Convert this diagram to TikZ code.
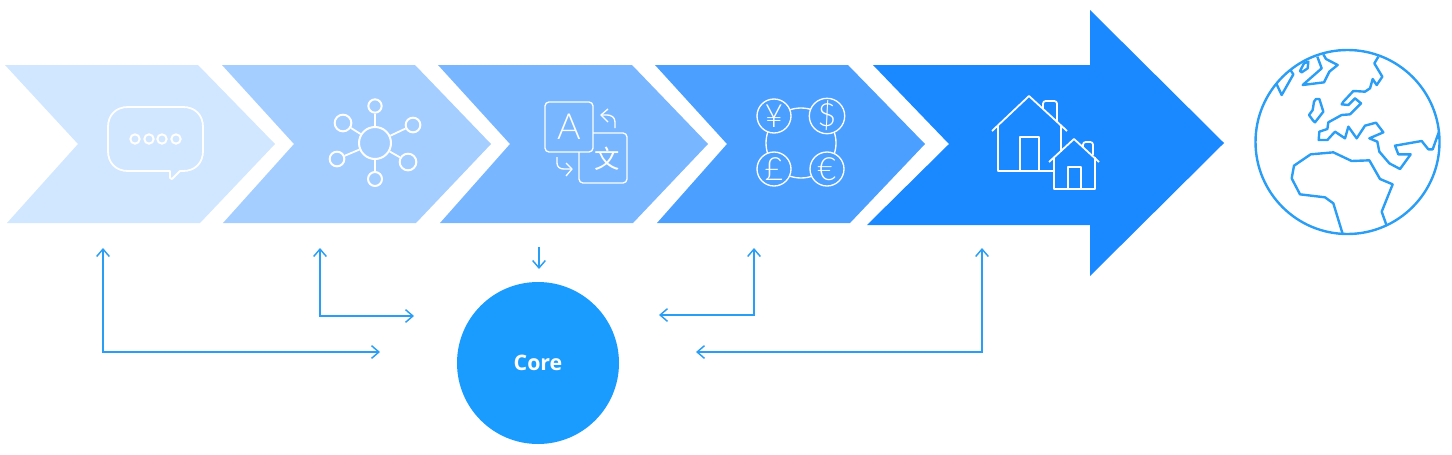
\documentclass[tikz,border=0pt]{standalone}
\usepackage{fontspec}
\usetikzlibrary{arrows.meta}
\newfontfamily\corefont{Open Sans}
\newfontfamily\iconfont{Lato Light}
\newfontfamily\cjkfont{Noto Sans CJK SC}
\definecolor{linkblue}{RGB}{42,157,244}
\definecolor{coreblue}{RGB}{26,156,255}
\definecolor{chevA}{RGB}{209,230,255}
\definecolor{chevB}{RGB}{163,206,255}
\definecolor{chevC}{RGB}{120,182,255}
\definecolor{chevD}{RGB}{75,159,255}
\definecolor{chevE}{RGB}{26,136,255}
\tikzset{
  link/.style={draw=linkblue,line width=1.1pt,{Straight Barb[length=5.5pt,width=9.5pt]}-{Straight Barb[length=5.5pt,width=9.5pt]}},
  oneway/.style={draw=linkblue,line width=1.1pt,-{Straight Barb[length=5.5pt,width=9.5pt]}},
  icon/.style={draw=white,line width=1.35pt,line join=round},
  thinicon/.style={draw=white,line width=1pt,line join=round},
  sat/.style={circle,draw=white,line width=1.5pt,inner sep=0pt,minimum size=#1},
  coin/.style={circle,draw=white,line width=1pt,inner sep=0pt,minimum size=25.5pt,fill=chevD,text=white,font=\iconfont\fontsize{24}{24}\selectfont},
  globe/.style={draw=linkblue,line width=1.8pt,line join=round},
}
\begin{document}
\begin{tikzpicture}[x=0.75pt,y=0.75pt,yscale=-1,xscale=1]
\useasboundingbox (0,0) rectangle (1452,454);

%Chevrons
\fill [chevA] (5,65) -- (198,65) -- (275,144) -- (200,223) -- (7,223) -- (78,144) -- cycle;
\fill [chevB] (222,65) -- (415,65) -- (491,144) -- (416,223) -- (223,223) -- (294,144) -- cycle;
\fill [chevC] (438,65) -- (632,65) -- (708,144) -- (633,223) -- (440,223) -- (510,144) -- cycle;
\fill [chevD] (655,65) -- (848,65) -- (925,144) -- (850,223) -- (657,223) -- (727,144) -- cycle;
\fill [chevE] (873,65) -- (1090,65) -- (1090,10) -- (1224,143) -- (1090,276) -- (1090,225) -- (867,225) -- (949,144) -- cycle;

%Speech bubble
\draw [icon] (128,107) -- (183,107) .. controls (195,107) and (203,115) .. (203,127) -- (203,151) .. controls (203,163) and (195,171) .. (183,171) -- (180,171) -- (172,179) -- (170,178) -- (170,171) -- (128,171) .. controls (116,171) and (108,163) .. (108,151) -- (108,127) .. controls (108,115) and (116,107) .. (128,107) -- cycle;
\draw (135,139) node [sat=7pt] (dota) {};
\draw (149,139) node [sat=7pt] (dotb) {};
\draw (162,139) node [sat=7pt] (dotc) {};
\draw (176,139) node [sat=7pt] (dotd) {};

%Network
\draw (375,143) node [sat=24pt] (hub) {};
\draw (375,106) node [sat=10pt] (sattop) {};
\draw (413,125) node [sat=11pt] (satur) {};
\draw (408,162) node [sat=12.5pt] (satlr) {};
\draw (375,179) node [sat=10.5pt] (satbot) {};
\draw (337,159) node [sat=11pt] (satll) {};
\draw (343,123) node [sat=12.5pt] (satul) {};
\draw [icon] (hub) -- (sattop);
\draw [icon] (hub) -- (satur);
\draw [icon] (hub) -- (satlr);
\draw [icon] (hub) -- (satbot);
\draw [icon] (hub) -- (satll);
\draw [icon] (hub) -- (satul);

%Translate
\draw [thinicon,rounded corners=3pt] (545,102) rectangle (593,152);
\draw [thinicon,rounded corners=3pt] (593,133) -- (627,133) -- (627,183) -- (579,183) -- (579,152);
\draw [thinicon] (615,128) -- (615,122) .. controls (615,117) and (611,115) .. (607,115) -- (601,115);
\draw [thinicon] (608,109) -- (601,115) -- (608,122);
\draw [thinicon] (557,157) -- (557,163) .. controls (557,167) and (560,169) .. (564,169) -- (572,169);
\draw [thinicon] (566,163) -- (572,169) -- (566,176);
% Text Node
\draw (569,127) node [text=white,font=\iconfont\fontsize{27}{27}\selectfont] (lettera) {A};
% Text Node
\draw (607,159) node [text=white,font=\cjkfont\fontsize{19}{19}\selectfont] (letterwen) {文};

%Currencies
\draw (801,143) node [circle,thinicon,inner sep=0pt,minimum size=52.5pt] (ring) {};
\draw (774,116) node [coin] (yen) {¥};
\draw (827,116) node [coin] (dollar) {\$};
\draw (774,169) node [coin] (pound) {£};
\draw (827,169) node [coin] (euro) {€};

%Houses
\draw [icon] (992,131) -- (1029,96) -- (1067,131);
\draw [icon] (998,125) -- (998,171) -- (1053,171);
\draw [icon] (1061,125) -- (1061,152);
\draw [icon] (1020,171) -- (1020,137) -- (1039,137) -- (1039,171);
\draw [icon,rounded corners=2pt] (1043,109) -- (1043,101) -- (1057,101) -- (1057,122);
\draw [icon] (1049,162) -- (1074,139) -- (1099,162);
\draw [icon] (1054,157) -- (1054,189) -- (1095,189) -- (1095,157);
\draw [icon] (1068,189) -- (1068,167) -- (1081,167) -- (1081,189);
\draw [icon,rounded corners=2pt] (1083,147) -- (1083,142) -- (1093,142) -- (1093,155);

%Globe
\draw (1347.5,142) node [circle,globe,inner sep=0pt,minimum size=138pt] (earth) {};
\begin{scope}[shift={(1240,35)},scale=1/3]
\draw [globe] (110,148) -- (125,180) -- (160,118) -- (152,106);
\draw [globe] (180,108) -- (185,112) -- (203,100) -- (205,80) -- (192,85) -- cycle;
\draw [globe] (232,65) -- (245,100) -- (188,150) -- (252,142) -- (268,110) -- (293,90) -- (258,72) -- (250,58);
\draw [globe] (415,65) -- (403,85) -- (427,125) -- (410,150) -- (398,132) -- (390,160) -- (375,170) -- (340,168) -- (310,200) -- (305,208) -- (325,210) -- (345,190) -- (363,205) -- (330,238) -- (305,240) -- (265,262) -- (262,282) -- (238,290) -- (236,315) -- (262,315) -- (285,290) -- (315,310) -- (325,275) -- (350,310) -- (375,272) -- (408,263) -- (430,292) -- (388,310) -- (412,320) -- (418,350) -- (448,385) -- (480,402) -- (512,358) -- (475,358) -- (465,332) -- (545,318) -- (565,343) -- (578,343) -- (597,290);
\draw [globe] (228,192) -- (238,192) -- (250,230) -- (225,262) -- (218,255) -- (207,240) -- (218,225) -- (222,200) -- cycle;
\draw [globe] (308,597) -- (280,505) -- (255,487) -- (180,478) -- (155,430) -- (162,392) -- (212,358) -- (280,352) -- (335,378) -- (388,376) -- (420,432) -- (458,448) -- (425,530) -- (440,572);
\end{scope}

% Text Node
\draw (538,363) node [circle,fill=coreblue,text=white,inner sep=0pt,minimum size=121.5pt,font=\corefont\bfseries\fontsize{16}{16}\selectfont] (core) {Core};

%Arrow ends
\coordinate (chatup) at (103,248);
\coordinate (chatin) at (380,352);
\coordinate (netup) at (320,248);
\coordinate (netin) at (414,316);
\coordinate (transup) at (539,247);
\coordinate (transin) at (539,269);
\coordinate (moneyup) at (754,248);
\coordinate (moneyin) at (659,315);
\coordinate (homeup) at (982,248);
\coordinate (homein) at (696,352);

%Straight Lines
\draw [link] (chatup) |- (chatin);
\draw [link] (netup) |- (netin);
\draw [oneway] (transup) -- (transin);
\draw [link] (moneyup) |- (moneyin);
\draw [link] (homeup) |- (homein);

\end{tikzpicture}
\end{document}
